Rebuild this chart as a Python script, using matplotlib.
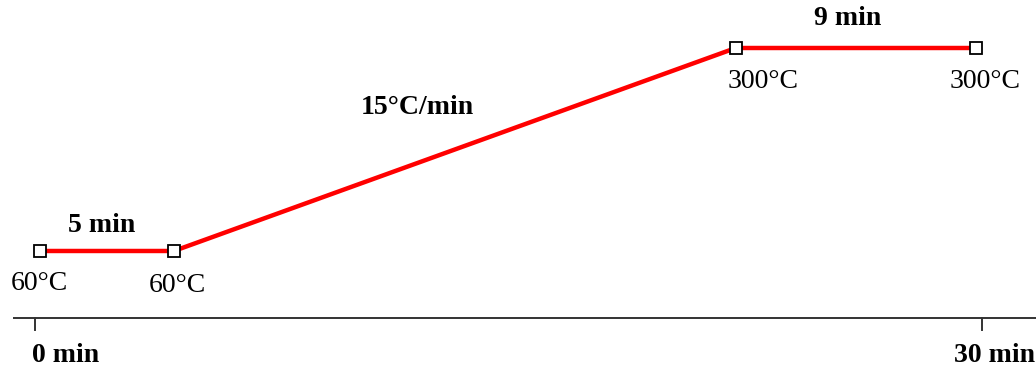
import matplotlib.pyplot as plt

# oven temperature program: hold, ramp, hold
times = [0.15, 4.4, 22.2, 29.8]          # min
temps = [60, 60, 300, 300]               # degC
temp_labels = ['60°C', '60°C', '300°C', '300°C']
step_labels = ['5 min', '15°C/min', '9 min']
tick_times = [0, 30]
tick_labels = ['0 min', '30 min']

plt.rcParams['font.family'] = ['Liberation Serif', 'DejaVu Serif']

fig = plt.figure(figsize=(10.36, 3.71), dpi=100)
ax = fig.add_axes([0, 0, 1, 1])
ax.set_xlim(-1.109, 31.71)
ax.set_ylim(-81.9, 356.75)
ax.axis('off')

# time axis
axis_y = -19.2
ax.plot([-0.7, 31.71], [axis_y, axis_y], color='#333333', lw=1.4, solid_capstyle='butt')
for t, lab, ha, dx in zip(tick_times, tick_labels, ['left', 'center'], [-0.1, 0.4]):
    ax.plot([t, t], [axis_y, axis_y - 14], color='#333333', lw=1.4)
    ax.text(t + dx, axis_y - 44, lab, ha=ha, va='center', fontsize=20, fontweight='bold')

# temperature profile
ax.plot(times, temps, color='#ff0000', lw=3.2, zorder=2)
ax.plot(times, temps, 's', ms=9, mfc='white', mec='black', mew=1.3, zorder=3)

# temperature labels under each point
offsets = [(0.0, -38), (0.1, -41), (0.85, -40), (0.3, -40)]
for t, T, lab, (dx, dy) in zip(times, temps, temp_labels, offsets):
    ax.text(t + dx, T + dy, lab, ha='center', va='center', fontsize=20)

# segment labels
seg_x = [2.12, 12.1, 25.75]
seg_y = [90, 230, 335]
for x, y, lab in zip(seg_x, seg_y, step_labels):
    ax.text(x, y, lab, ha='center', va='center', fontsize=20, fontweight='bold')

fig.savefig('out.png', dpi=100)
